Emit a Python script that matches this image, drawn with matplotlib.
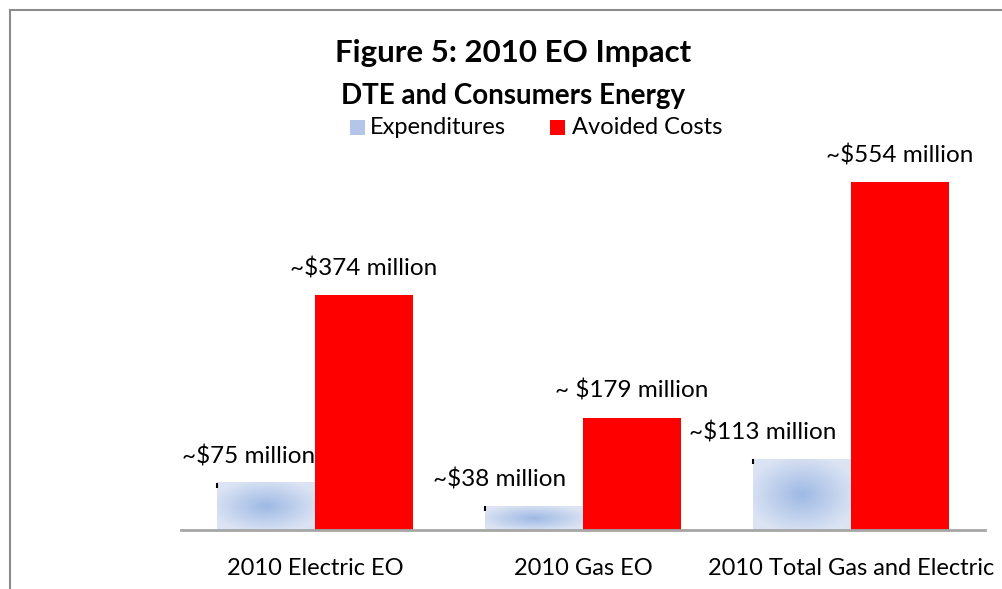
import matplotlib
matplotlib.use("Agg")
import matplotlib.pyplot as plt
from matplotlib.patches import Rectangle
import numpy as np

categories = ['2010 Electric EO', '2010 Gas EO', '2010 Total Gas and Electric']
expenditures = [75, 38, 113]
avoided_costs = [374, 179, 554]
exp_labels = ['~$75 million', '~$38 million', '~$113 million']
avoided_labels = ['~$374 million', '~ $179 million', '~$554 million']

plt.rcParams['font.family'] = ['Lato', 'DejaVu Sans']

fig = plt.figure(figsize=(10.03, 5.89), dpi=100)
W, H = 1003, 589

# frame around the chart (partly cut off at right/bottom)
fig.add_artist(plt.Line2D([10 / W, 10 / W], [0, 1 - 10 / H], color='#8c8c8c', lw=1.5))
fig.add_artist(plt.Line2D([10 / W, 1], [1 - 10 / H, 1 - 10 / H], color='#8c8c8c', lw=1.5))

ax = fig.add_axes([181 / W, (H - 530) / H, (985 - 181) / W, 400 / H])
x = np.arange(len(categories))
width = 0.365

# radial gradient for the expenditure bars
n = 60
gx, gy = np.meshgrid(np.linspace(-1, 1, n), np.linspace(-1, 1, n))
r = np.clip(np.sqrt(gx ** 2 + gy ** 2) / 1.15, 0, 1)
c_in = np.array([158, 185, 228]) / 255
c_out = np.array([220, 228, 244]) / 255
grad = c_in[None, None, :] * (1 - r[..., None]) + c_out[None, None, :] * r[..., None]

exp_bars = ax.bar(x - width / 2, expenditures, width, color='none', edgecolor='none',
                  label='Expenditures')
for b in exp_bars:
    bx, by, bw, bh = b.get_x(), b.get_y(), b.get_width(), b.get_height()
    ax.imshow(grad, extent=[bx, bx + bw, by, by + bh], aspect='auto',
              interpolation='bilinear', zorder=2)
    # little black mark at the top-left corner, as in the original
    ax.plot([bx, bx], [bh - 8, bh], color='black', lw=1.5, zorder=3,
            solid_capstyle='butt')
red_bars = ax.bar(x + width / 2, avoided_costs, width, color='#ff0000', zorder=2,
                  label='Avoided Costs')
ax.set_xlim(-0.5, 2.5)
ax.set_ylim(0, 400 / 0.628)

exp_shift = [-18, -35, -39]
for i, v in enumerate(expenditures):
    ax.annotate(exp_labels[i], (x[i] - width / 2, v), xytext=(exp_shift[i] * 0.72, 19),
                textcoords='offset points', ha='center', va='center', fontsize=17.5,
                color='black')
for i, v in enumerate(avoided_costs):
    ax.annotate(avoided_labels[i], (x[i] + width / 2, v), xytext=(0, 19.5),
                textcoords='offset points', ha='center', va='center', fontsize=17.5,
                color='black')

for s in ['top', 'right', 'left']:
    ax.spines[s].set_visible(False)
ax.spines['bottom'].set_color('#a6a6a6')
ax.spines['bottom'].set_linewidth(2)
ax.set_yticks([])
ax.set_xticks(x)
ax.set_xticklabels(categories, fontsize=17)
ax.tick_params(axis='x', length=0, pad=20)

fig.text(513 / W, 1 - 53 / H, 'Figure 5: 2010 EO Impact', ha='center', va='center',
         fontsize=22.5, fontweight='bold')
fig.text(513 / W, 1 - 96 / H, 'DTE and Consumers Energy', ha='center', va='center',
         fontsize=20, fontweight='bold')

# legend
fig.patches.append(Rectangle((350 / W, 1 - 135 / H), 15 / W, 15 / H, transform=fig.transFigure,
                             facecolor='#b4c6e7', edgecolor='none'))
fig.text(370 / W, 1 - 127 / H, 'Expenditures', ha='left', va='center', fontsize=17)
fig.patches.append(Rectangle((550 / W, 1 - 135 / H), 15 / W, 15 / H, transform=fig.transFigure,
                             facecolor='#ff0000', edgecolor='none'))
fig.text(572 / W, 1 - 127 / H, 'Avoided Costs', ha='left', va='center', fontsize=17)

fig.savefig('out.png', dpi=100)
